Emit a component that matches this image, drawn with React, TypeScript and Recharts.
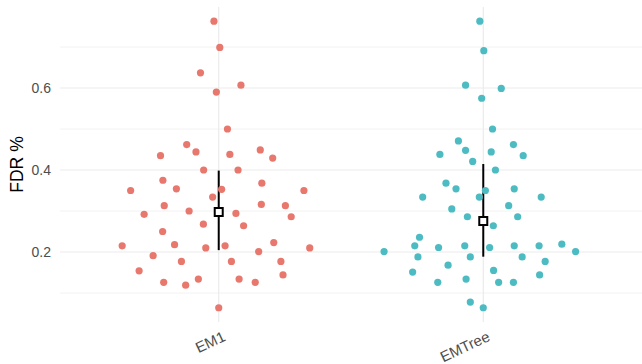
import React from 'react';
import { ScatterChart, Scatter, XAxis, YAxis, ErrorBar, ReferenceLine } from 'recharts';

const categories = ['EM1', 'EMTree'];

// FDR values per point
const em1Values = [
  0.763, 0.699, 0.637, 0.607, 0.590, 0.500, 0.462, 0.444, 0.435, 0.438,
  0.449, 0.429, 0.400, 0.400, 0.375, 0.368, 0.350, 0.354, 0.353, 0.334,
  0.350, 0.313, 0.292, 0.300, 0.316, 0.313, 0.294, 0.286, 0.268, 0.264,
  0.250, 0.215, 0.218, 0.210, 0.215, 0.223, 0.210, 0.191, 0.177, 0.177,
  0.201, 0.177, 0.154, 0.126, 0.119, 0.134, 0.134, 0.126, 0.144, 0.064,
];
// horizontal jitter offsets (in category units)
const em1Offsets = [
  -0.018, 0.004, -0.069, 0.084, -0.009, 0.033, -0.121, -0.086, -0.220, 0.042,
  0.157, 0.204, -0.057, 0.073, -0.211, 0.163, -0.333, -0.160, 0.011, -0.023,
  0.322, -0.206, -0.282, -0.112, 0.161, 0.252, 0.065, 0.274, -0.058, 0.094,
  -0.212, -0.365, -0.167, -0.049, 0.024, 0.208, 0.344, -0.248, -0.141, 0.048,
  0.151, 0.235, -0.301, -0.208, -0.125, -0.077, 0.077, 0.138, 0.243, 0.0,
];

const emtreeValues = [
  0.763, 0.691, 0.607, 0.599, 0.575, 0.500, 0.471, 0.448, 0.438, 0.444,
  0.462, 0.435, 0.421, 0.400, 0.368, 0.354, 0.334, 0.350, 0.334, 0.354,
  0.334, 0.305, 0.313, 0.286, 0.286, 0.264, 0.236, 0.215, 0.211, 0.215,
  0.211, 0.215, 0.215, 0.219, 0.201, 0.201, 0.188, 0.188, 0.188, 0.177,
  0.168, 0.151, 0.155, 0.144, 0.126, 0.134, 0.126, 0.126, 0.078, 0.064,
];
const emtreeOffsets = [
  -0.013, 0.002, -0.067, 0.068, -0.006, 0.035, -0.094, -0.067, -0.164, 0.030,
  0.114, 0.151, -0.040, 0.046, -0.141, -0.103, -0.229, 0.008, -0.015, 0.117,
  0.219, -0.119, 0.096, -0.060, 0.130, 0.038, -0.241, -0.259, -0.169, -0.070,
  0.024, 0.117, 0.211, 0.297, 0.349, -0.375, -0.247, -0.049, 0.147, 0.234,
  -0.133, -0.267, 0.039, 0.213, -0.172, -0.065, 0.058, 0.114, -0.049, 0.0,
];

// summary marker: centre and [lower, upper] extent of the vertical bar
const centres = [0.2976, 0.2756];
const lowerErr = [0.093, 0.087];
const upperErr = [0.101, 0.139];

const yTicks = [0.2, 0.4, 0.6];
const yMinorTicks = [0.1, 0.3, 0.5, 0.7];
const yDomain: [number, number] = [0.0293, 0.7976];
const xDomain: [number, number] = [0.4, 2.6];
const xTicks = [1, 2];
const colors = ['#E8786D', '#4DBBC2'];

const FONT = '"Liberation Sans", Arial, sans-serif';

const em1Data = em1Values.map((v, i) => ({ x: 1 + em1Offsets[i], y: v }));
const emtreeData = emtreeValues.map((v, i) => ({ x: 2 + emtreeOffsets[i], y: v }));
const meanData = centres.map((m, i) => ({ x: i + 1, y: m, err: [lowerErr[i], upperErr[i]] }));

const XTick = (props: any) => {
  const { x, y, payload } = props;
  const label = categories[Math.round(payload.value) - 1];
  const ax = x + 3;
  const ay = y;
  return (
    <text
      x={ax}
      y={ay}
      transform={`rotate(-25 ${ax} ${ay})`}
      textAnchor="end"
      dominantBaseline="hanging"
      fontSize={15}
      fill="#4D4D4D"
      fontFamily={FONT}
    >
      {label}
    </text>
  );
};

const YTick = (props: any) => {
  const { x, y, payload } = props;
  return (
    <text x={x - 1} y={y} dy="0.35em" textAnchor="end" fontSize={14} fill="#4D4D4D" fontFamily={FONT}>
      {payload.value}
    </text>
  );
};

const dot = (color: string) => (p: any) => <circle cx={p.cx} cy={p.cy} r={3.6} fill={color} />;

const meanShape = (p: any) => (
  <rect x={p.cx - 4} y={p.cy - 4} width={8} height={8} fill="#FFFFFF" stroke="#000000" strokeWidth={2} />
);

const YLabel = (lp: any) => {
  const vb = lp.viewBox || {};
  const cx = (vb.x ?? 0) + 17;
  const cy = (vb.y ?? 7) + (vb.height ?? 315) / 2;
  return (
    <text
      x={cx}
      y={cy}
      transform={`rotate(-90 ${cx} ${cy})`}
      textAnchor="middle"
      dominantBaseline="central"
      fontSize={17.6}
      fill="#000000"
      fontFamily={FONT}
    >
      FDR %
    </text>
  );
};

export default function App() {
  return (
    <div style={{ position: 'absolute', left: 0, top: 0, width: 642, height: 364, background: '#fff' }}>
      <ScatterChart width={642} height={364} margin={{ top: 7, right: 0, bottom: 0, left: 0 }}>
        {yMinorTicks.map((v) => (
          <ReferenceLine key={`mi${v}`} y={v} stroke="#F1F1F1" strokeWidth={0.9} />
        ))}
        {yTicks.map((v) => (
          <ReferenceLine key={`ma${v}`} y={v} stroke="#EBEBEB" strokeWidth={1.2} />
        ))}
        {xTicks.map((v) => (
          <ReferenceLine key={`mx${v}`} x={v} stroke="#EBEBEB" strokeWidth={1.2} />
        ))}
        <XAxis
          type="number"
          dataKey="x"
          domain={xDomain}
          ticks={xTicks}
          allowDataOverflow
          axisLine={false}
          tickLine={false}
          height={42}
          interval={0}
          tick={<XTick />}
        />
        <YAxis
          type="number"
          dataKey="y"
          domain={yDomain}
          ticks={yTicks}
          allowDataOverflow
          axisLine={false}
          tickLine={false}
          width={60}
          interval={0}
          tick={<YTick />}
          label={<YLabel />}
        />
        <Scatter data={em1Data} shape={dot(colors[0])} isAnimationActive={false} />
        <Scatter data={emtreeData} shape={dot(colors[1])} isAnimationActive={false} />
        <Scatter data={meanData} shape={meanShape} isAnimationActive={false}>
          <ErrorBar dataKey="err" direction="y" width={0} stroke="#000000" strokeWidth={2} />
        </Scatter>
      </ScatterChart>
    </div>
  );
}
